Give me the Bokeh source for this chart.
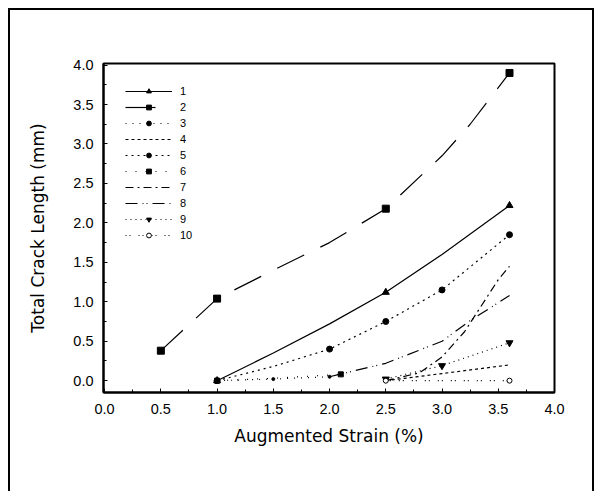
from bokeh.plotting import figure
from bokeh.layouts import column
from bokeh.models import FixedTicker, Range1d
from bokeh.embed import file_html
from bokeh.resources import INLINE

# ---- data ----
labels = ["1", "2", "3", "4", "5", "6", "7", "8", "9", "10"]
# line paths
x1 = [1.0, 1.5, 2.0, 2.5, 3.0, 3.6];            y1 = [0.0, 0.35, 0.72, 1.12, 1.60, 2.22]
x2 = [0.5, 1.0, 1.5, 2.0, 2.5, 3.0, 3.25, 3.6]; y2 = [0.38, 1.04, 1.40, 1.75, 2.18, 2.85, 3.25, 3.90]
x3 = [1.0, 1.5, 2.0];                           y3 = [0.0, 0.02, 0.05]
x4 = [2.5, 3.0, 3.6];                           y4 = [0.0, 0.09, 0.20]
x5 = [1.0, 1.5, 2.0, 2.5, 3.0, 3.6];            y5 = [0.0, 0.18, 0.40, 0.75, 1.15, 1.85]
x6 = [1.0, 1.5, 2.1];                           y6 = [0.0, 0.03, 0.08]
x7 = [2.5, 2.8, 3.0, 3.2, 3.35, 3.5, 3.6];      y7 = [0.0, 0.10, 0.30, 0.62, 0.95, 1.28, 1.45]
x8 = [2.0, 2.5, 3.0, 3.25, 3.6];                y8 = [0.05, 0.22, 0.50, 0.76, 1.08]
x9 = [2.5, 3.0, 3.6];                           y9 = [0.02, 0.19, 0.48]
x10 = [2.5, 3.0, 3.6];                          y10 = [0.0, 0.0, 0.0]
# marker points
mx1 = [1.0, 2.5, 3.6];           my1 = [0.0, 1.12, 2.22]
mx2 = [0.5, 1.0, 2.5, 3.6];      my2 = [0.38, 1.04, 2.18, 3.90]
mx3 = [1.0, 1.5, 2.0];           my3 = [0.0, 0.02, 0.05]
mx5 = [1.0, 2.0, 2.5, 3.0, 3.6]; my5 = [0.0, 0.40, 0.75, 1.15, 1.85]
mx6 = [1.0, 2.1];                my6 = [0.0, 0.08]
mx9 = [2.5, 3.0, 3.6];           my9 = [0.02, 0.19, 0.48]
mx10 = [2.5, 3.6];               my10 = [0.0, 0.0]

xs = [x1, x2, x3, x4, x5, x6, x7, x8, x9, x10]
ys = [y1, y2, y3, y4, y5, y6, y7, y8, y9, y10]
mxs = [mx1, mx2, mx3, None, mx5, mx6, None, None, mx9, mx10]
mys = [my1, my2, my3, None, my5, my6, None, None, my9, my10]

x_ticks = [0.0, 0.5, 1.0, 1.5, 2.0, 2.5, 3.0, 3.5, 4.0]
y_ticks = [0.0, 0.5, 1.0, 1.5, 2.0, 2.5, 3.0, 3.5, 4.0]
y_minor = [0.25, 0.75, 1.25, 1.75, 2.25, 2.75, 3.25, 3.75]
x_minor = [0.25, 0.75, 1.25, 1.75, 2.25, 2.75, 3.25, 3.75]

# ---- styles ----
dashes = ["solid", "30 18", "1 6", "3 3", "2 4", "1 9", "8 4 2 4", "12 5 1 3 1 5", "1 4", "1 3 1 8"]
markers = ["triangle", "square", "circle", None, "circle", "square", None, None, "inverted_triangle", "circle"]
msizes = [7, 7, 3, 0, 6, 5, 0, 0, 7, 5]
mfill = ["black"] * 9 + ["white"]

FONT = "Liberation Sans"
TFONT = "DejaVu Sans"

# canvas placed 10px right/down of window origin (inside the outer border)
p = figure(width=582, height=481, output_backend="svg", toolbar_location=None,
           x_range=Range1d(-0.01, 4.0), y_range=Range1d(-0.15, 4.02),
           min_border_left=93, min_border_right=38, min_border_top=53, min_border_bottom=99)
p.grid.visible = False
p.outline_line_color = "black"
p.outline_line_width = 2
p.background_fill_color = "white"
p.border_fill_color = "white"

for i in range(10):
    p.line(xs[i], ys[i], line_color="black", line_width=1.2, line_dash=dashes[i],
           legend_label=labels[i])
    if markers[i] is not None:
        p.scatter(mxs[i], mys[i], marker=markers[i], size=msizes[i], line_color="black",
                  fill_color=mfill[i], legend_label=labels[i])

for ax in (p.xaxis[0], p.yaxis[0]):
    ax.axis_line_width = 2
    ax.axis_line_color = "black"
    ax.major_tick_in = 4
    ax.major_tick_out = 0
    ax.minor_tick_in = 3
    ax.minor_tick_out = 0
    ax.major_tick_line_color = "black"
    ax.minor_tick_line_color = "black"
    ax.major_label_text_font = FONT
    ax.major_label_text_font_size = "14.5px"
    ax.major_label_text_color = "black"
    ax.axis_label_text_font = TFONT
    ax.axis_label_text_font_size = "17px"
    ax.axis_label_text_font_style = "normal"
    ax.axis_label_text_color = "black"

p.xaxis.ticker = FixedTicker(ticks=x_ticks, minor_ticks=x_minor)
p.yaxis.ticker = FixedTicker(ticks=y_ticks, minor_ticks=y_minor)
p.xaxis.axis_label = "Augmented Strain (%)"
p.yaxis.axis_label = "Total Crack Length (mm)"
p.xaxis.major_label_standoff = 11
p.yaxis.major_label_standoff = 10
p.xaxis.axis_label_standoff = 9
p.yaxis.axis_label_standoff = 22
p.xaxis.major_label_overrides = {t: f"{t:.1f}" for t in x_ticks}
p.yaxis.major_label_overrides = {t: f"{t:.1f}" for t in y_ticks}

lg = p.legend[0]
lg.location = "top_left"
lg.border_line_color = None
lg.background_fill_alpha = 0
lg.label_text_font = FONT
lg.label_text_font_size = "11px"
lg.label_text_color = "black"
lg.glyph_width = 47
lg.glyph_height = 12
lg.label_height = 12
lg.spacing = 4
lg.padding = 3
lg.margin = 22
lg.label_standoff = 8

layout = column(p, styles={
    "margin-left": "8px", "margin-top": "8px",
    "border-top": "2px solid black", "border-left": "2px solid black",
    "border-right": "2px solid black",
})

open("out.html", "w").write(file_html(layout, INLINE))
